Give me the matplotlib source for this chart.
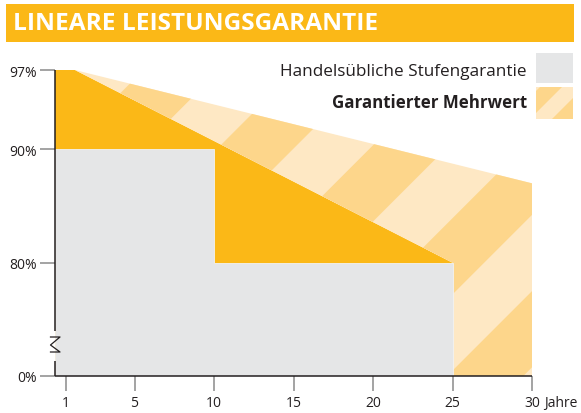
import matplotlib
matplotlib.use("Agg")
import matplotlib.pyplot as plt
import numpy as np
from matplotlib.patches import Polygon, Rectangle
from matplotlib.transforms import IdentityTransform

# ---------------- data ----------------
title = "LINEARE LEISTUNGSGARANTIE"
legend_labels = ["Handelsübliche Stufengarantie", "Garantierter Mehrwert"]

step_years = [0, 10, 10, 25]          # step guarantee (gray)
step_values = [90, 90, 80, 80]

linear_years = [0, 1.25, 25]          # linear guarantee (orange)
linear_values = [97, 97, 80]

upper_years = [1.25, 30]              # guaranteed additional value (striped) top line
upper_values = [97, 87]

y_ticks = [0, 80, 90, 97]
y_ticklabels = ["0%", "80%", "90%", "97%"]
x_ticks = [0.7, 5, 10, 15, 20, 25, 30]
x_ticklabels = ["1", "5", "10", "15", "20", "25", "30"]
x_unit = "Jahre"

# ---------------- style ----------------
ORANGE = "#FBB817"
PALE = "#FEE8C4"
MEDIUM = "#FDD68B"
GRAY = "#E5E6E7"
DARK = "#231F20"
TICKGRAY = "#8A8A8A"
FONT = "Open Sans"

W, H = 581, 414
DPI = 100
fig = plt.figure(figsize=(W / DPI, H / DPI), dpi=DPI)

def fwd(y):
    y = np.asarray(y, dtype=float)
    return np.where(y >= 80, y, 70 + y / 8.0)

def inv(p):
    p = np.asarray(p, dtype=float)
    return np.where(p >= 80, p, (p - 70) * 8.0)

ax_l, ax_r, ax_t, ax_b = 55, 532, 71, 377
ax = fig.add_axes([ax_l / W, (H - ax_b) / H, (ax_r - ax_l) / W, (ax_b - ax_t) / H])
ax.set_yscale("function", functions=(fwd, inv))
ax.set_xlim(0, 30)
ax.set_ylim(0, 97)
ax.patch.set_visible(False)
for s in ax.spines.values():
    s.set_visible(False)

# orange linear guarantee area
orange_pts = [(0, 0)] + list(zip(linear_years, linear_values)) + [(linear_years[-1], 0)]
ax.add_patch(Polygon(orange_pts, closed=True, facecolor=ORANGE, edgecolor="none", zorder=1))

# gray step guarantee
gray_pts = [(0, 0)] + list(zip(step_years, step_values)) + [(step_years[-1], 0)]
ax.add_patch(Polygon(gray_pts, closed=True, facecolor=GRAY, edgecolor="#F2F2F2", lw=0.6, zorder=2))

# striped additional value region
region_pts = (list(zip(upper_years, upper_values)) + [(upper_years[-1], 0), (linear_years[-1], 0)]
              + [(linear_years[-1], linear_values[-1]), (linear_years[1], linear_values[1])])
region = Polygon(region_pts, closed=True, facecolor=PALE, edgecolor="none", zorder=1)
ax.add_patch(region)

def stripes(c0, period, clip, ymin, ymax, zorder, parent):
    # bands of lines x + y_img = c  ->  x - y_disp = c - H
    arts = []
    for k in range(-30, 30):
        if k % 2:
            continue
        c1 = c0 + period * k
        c2 = c1 + period
        d1, d2 = c1 - H, c2 - H
        pts = [(d1 + ymin, ymin), (d2 + ymin, ymin), (d2 + ymax, ymax), (d1 + ymax, ymax)]
        p = Polygon(pts, closed=True, facecolor=MEDIUM, edgecolor="none",
                    transform=IdentityTransform(), zorder=zorder)
        parent.add_artist(p)
        p.set_clip_path(clip)
        arts.append(p)
    return arts

stripes(214.5, 76.2, region, -200, 800, 1.5, ax)

# axes lines
break_lo, break_hi = 10.6, 31.8
ax.plot([0, 0], [0, break_lo], color=DARK, lw=1.1, zorder=5, solid_capstyle="butt", clip_on=False)
ax.plot([0, 0], [break_hi, 97], color=DARK, lw=1.1, zorder=5, solid_capstyle="butt", clip_on=False)
ax.plot([0, 30], [0, 0], color=DARK, lw=1.1, zorder=5, solid_capstyle="butt", clip_on=False)

# break symbol (figure pixel coordinates)
zz = np.array([(50.5, 338), (60, 338), (50.5, 346), (60, 353), (50.5, 353)])
fig.add_artist(plt.Line2D(zz[:, 0] / W, 1 - zz[:, 1] / H, color=DARK, lw=0.9,
                          transform=fig.transFigure))

# ticks
ax.set_yticks(y_ticks)
ax.set_yticklabels(y_ticklabels)
ax.set_xticks(x_ticks)
ax.set_xticklabels(x_ticklabels)
ax.yaxis.set_minor_locator(matplotlib.ticker.NullLocator())
ax.tick_params(axis="y", length=11, width=1.1, color=TICKGRAY, pad=2,
               labelsize=10, labelcolor=DARK)
ax.tick_params(axis="x", length=11, width=1.1, color=TICKGRAY, pad=3,
               labelsize=10, labelcolor=DARK)
for lab in ax.get_xticklabels() + ax.get_yticklabels():
    lab.set_fontfamily(FONT)
ax.annotate(x_unit, xy=(30, 0), xycoords="data", xytext=(12, -27),
            textcoords="offset pixels", ha="left", va="center",
            fontsize=10, color=DARK, fontfamily=FONT, annotation_clip=False)

# title bar
fig.add_artist(Rectangle((6 / W, 1 - 43 / H), (574 - 6) / W, (43 - 5) / H,
                         transform=fig.transFigure, facecolor=ORANGE, edgecolor="none"))
fig.text(13 / W, 1 - 24.5 / H, title, color="white", fontsize=17.6, fontweight="bold",
         fontfamily=FONT, ha="left", va="center")

# legend
fig.text(527 / W, 1 - 72 / H, legend_labels[0], color=DARK, fontsize=12.3, fontfamily=FONT,
         ha="right", va="center")
fig.text(527 / W, 1 - 103 / H, legend_labels[1], color=DARK, fontsize=12.2, fontweight="bold",
         fontfamily=FONT, ha="right", va="center")
fig.add_artist(Rectangle((536 / W, 1 - 84 / H), 37 / W, 30 / H, transform=fig.transFigure,
                         facecolor=GRAY, edgecolor="none"))
leg_box = Rectangle((536 / W, 1 - 120 / H), 37 / W, 32 / H, transform=fig.transFigure,
                    facecolor=PALE, edgecolor="none")
fig.add_artist(leg_box)
stripes(536 + 88 + 4, 22, leg_box, 250, 360, 3, fig)

fig.savefig("out.png", dpi=DPI)
